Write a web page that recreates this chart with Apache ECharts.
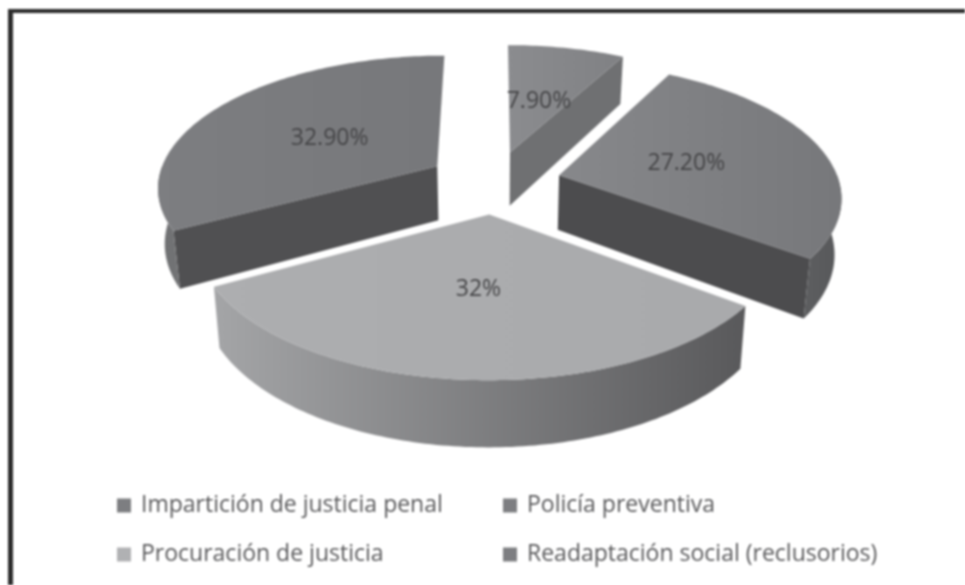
<!DOCTYPE html>
<html>
<head>
<meta charset="utf-8">
<title>Pie</title>
<script src="https://cdn.jsdelivr.net/npm/echarts@6/dist/echarts.min.js"></script>
<style>
	html, body { margin: 0; padding: 0; background: #fff; }
	#chart { width: 965px; height: 585px; filter: blur(0.8px); }
</style>
</head>
<body>
<div id="chart"></div>
<script>
'use strict';

var categories = ['Impartición de justicia penal', 'Policía preventiva', 'Procuración de justicia', 'Readaptación social (reclusorios)'];
var values = [7.9, 27.2, 32, 32.9];
var valueLabels = ['7.90%', '27.20%', '32%', '32.90%'];
var swatchColors = ['#7d7e81', '#7d7e81', '#b0b1b3', '#7d7e81'];

// top face, cut face and rim colours of each slice
var topColors = [
	['#8b8c8f', '#808184'],
	['#87888b', '#77787b'],
	['#adaeb0', '#a9aaac'],
	['#7d7e81', '#77787b']
];
var cutColors = ['#6f7072', '#4c4c4e', '#555', '#505052'];
var rimColors = [
	['#666', '#666'],
	['#5d5e60', '#57585a'],
	['#a4a5a7', '#59595b'],
	['#6e6f71', '#737476']
];

// fake 3D projection of the pie
var cx = 494, cy = 182;
var radiusX = 280, radiusY = 131;
var perspective = 0.146;
var explode = 0.24;
var depth = 55;
var bottomShrink = 0.98;
var labelRadius = 0.48;

var total = values.reduce(function (a, b) { return a + b; }, 0);

function rad(deg) {
	return deg * Math.PI / 180;
}

// angle is clockwise from 12 o'clock, r is 0..1 of the radius
function project(angle, r, mid, lower) {
	var u = r * Math.sin(rad(angle)) + explode * Math.sin(rad(mid));
	var v = -r * Math.cos(rad(angle)) - explode * Math.cos(rad(mid));
	var w = 1 - perspective * v;
	var x = cx + radiusX * u / w;
	var y = cy + radiusY * v / w;
	if (lower) {
		x = cx + (x - cx) * bottomShrink;
		y = y + depth / w;
	}
	return [x, y];
}

function arcPoints(from, to, mid, lower) {
	var pts = [];
	var steps = Math.max(2, Math.ceil(Math.abs(to - from)));
	for (var i = 0; i <= steps; i++) {
		pts.push(project(from + (to - from) * i / steps, 1, mid, lower));
	}
	return pts;
}

function hGradient(stops) {
	return {
		type: 'linear', x: 0, y: 0, x2: 1, y2: 0,
		colorStops: [{ offset: 0, color: stops[0] }, { offset: 1, color: stops[1] }]
	};
}

function cutFace(angle, mid, color) {
	return {
		type: 'polygon',
		shape: { points: [
			project(0, 0, mid, false),
			project(angle, 1, mid, false),
			project(angle, 1, mid, true),
			project(0, 0, mid, true)
		] },
		style: { fill: color }
	};
}

function renderSlice(index) {
	return function (params, api) {
		var before = 0;
		for (var i = 0; i < index; i++) {
			before += values[i];
		}
		var start = before / total * 360;
		var end = start + api.value(0) / total * 360;
		var mid = (start + end) / 2;
		var children = [];

		// faces turned to the viewer
		if (start > 180) {
			children.push(cutFace(start, mid, cutColors[index]));
		}
		if (end < 180) {
			children.push(cutFace(end, mid, cutColors[index]));
		}
		var rimFrom = Math.max(start, 90), rimTo = Math.min(end, 270);
		if (rimFrom < rimTo) {
			children.push({
				type: 'polygon',
				shape: { points: arcPoints(rimFrom, rimTo, mid, false).concat(arcPoints(rimTo, rimFrom, mid, true)) },
				style: { fill: hGradient(rimColors[index]) }
			});
		}

		children.push({
			type: 'polygon',
			shape: { points: [project(0, 0, mid, false)].concat(arcPoints(start, end, mid, false)) },
			style: { fill: hGradient(topColors[index]) }
		});

		var labelAt = project(mid, labelRadius, mid, false);
		children.push({
			type: 'text',
			style: {
				text: valueLabels[index],
				x: labelAt[0],
				y: labelAt[1] + 2,
				align: 'center',
				verticalAlign: 'middle',
				fill: '#444446',
				font: '23px "Open Sans"'
			}
		});
		return { type: 'group', children: children };
	};
}

// back slices first, front slice last
var drawOrder = [0, 3, 1, 2];

var series = categories.map(function (name, i) {
	return {
		name: name,
		type: 'custom',
		coordinateSystem: 'none',
		z: 2 + drawOrder.indexOf(i),
		itemStyle: { color: swatchColors[i] },
		renderItem: renderSlice(i),
		data: [values[i]]
	};
});

function legendColumn(names, left) {
	return {
		data: names,
		orient: 'vertical',
		left: left,
		top: 494,
		icon: 'rect',
		itemWidth: 14,
		itemHeight: 14,
		itemGap: 26,
		padding: 0,
		textStyle: { color: '#58585a', fontFamily: 'Open Sans', fontSize: 23, padding: [0, 0, 0, 5] }
	};
}

var chart = echarts.init(document.getElementById('chart'));
chart.setOption({
	animation: false,
	backgroundColor: '#fff',
	legend: [
		legendColumn([categories[0], categories[2]], 117),
		legendColumn([categories[1], categories[3]], 503)
	],
	series: series,
	graphic: [
		{ type: 'rect', z: 10, shape: { x: 8, y: 9, width: 957, height: 4 }, style: { fill: '#2b2b2b' } },
		{ type: 'rect', z: 10, shape: { x: 8, y: 9, width: 5, height: 576 }, style: { fill: '#2b2b2b' } }
	]
});
</script>
</body>
</html>
